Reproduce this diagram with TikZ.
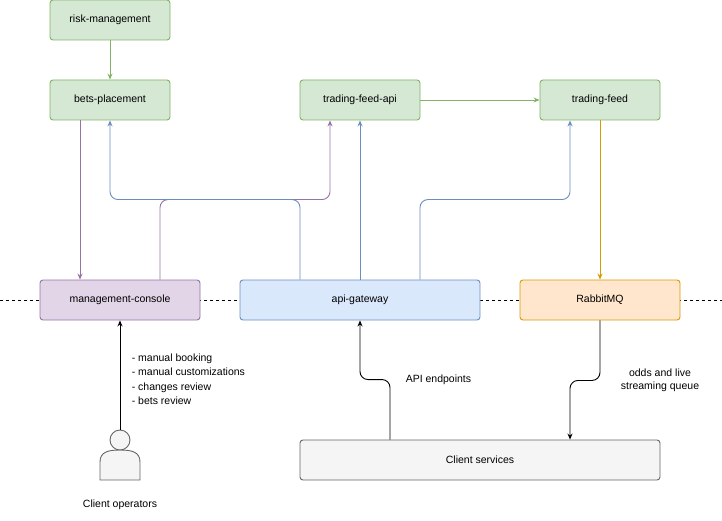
\documentclass[tikz,border=0pt]{standalone}
\usepackage{fontspec}
\setmainfont{Liberation Sans}
\usetikzlibrary{arrows.meta}
\definecolor{grfill}{HTML}{D5E8D4}\definecolor{grline}{HTML}{82B366}
\definecolor{pufill}{HTML}{E1D5E7}\definecolor{puline}{HTML}{9673A6}
\definecolor{blfill}{HTML}{DAE8FC}\definecolor{blline}{HTML}{6C8EBF}
\definecolor{orfill}{HTML}{FFE6CC}\definecolor{orline}{HTML}{D79B00}
\definecolor{gyfill}{HTML}{F5F5F5}\definecolor{gyline}{HTML}{666666}
\begin{document}
\begin{tikzpicture}
      [x=1pt,y=-1pt
      ,font=\fontsize{10.5}{13}\selectfont
      ,line width=0.9pt
      ,box/.style={draw,rounded corners=3pt,minimum height=40pt,inner sep=0pt}
      ,grn/.style={box,fill=grfill,draw=grline,minimum width=120pt}
      ,arr/.style={-{Stealth[length=6pt,width=5pt]},rounded corners=8pt}
      ]
        \useasboundingbox (0,0) rectangle (722,521);
        \draw[dashed] (0,300) -- (722,300);

        \node[grn] (risk) at (110,20) {risk-management};
        \node[grn] (bets) at (110,100) {bets-placement};
        \node[grn] (tfapi) at (360,100) {trading-feed-api};
        \node[grn] (tf) at (600,100) {trading-feed};
        \node[box,fill=pufill,draw=puline,minimum width=160pt] (console) at (120,300) {management-console};
        \node[box,fill=blfill,draw=blline,minimum width=240pt] (gw) at (360,300) {api-gateway};
        \node[box,fill=orfill,draw=orline,minimum width=160pt] (mq) at (600,300) {RabbitMQ};
        \node[box,fill=gyfill,draw=gyline,minimum width=360pt] (client) at (480,460) {Client services};

        % person icon
        \coordinate (op) at (120,430);
        \draw[fill=gyfill,draw=gyline] (100,480) -- (100,462) .. controls (100,452) and (108,450) .. (120,450)
            .. controls (132,450) and (140,452) .. (140,462) -- (140,480) -- cycle;
        \draw[fill=gyfill,draw=gyline] (120,440) circle (10);
        \node (oplbl) at (120,505) {Client operators};

        \draw[arr,grline] (risk) -- (bets);
        \draw[arr,grline] (tfapi) -- (tf);
        \draw[arr,puline] ([xshift=-30pt]bets.south) -- ([xshift=-40pt]console.north);
        \draw[arr,puline] ([xshift=40pt]console.north) -- ++(0,-80) -| ([xshift=-30pt]tfapi.south);
        \draw[arr,blline] ([xshift=-60pt]gw.north) -- ++(0,-80) -| (bets.south);
        \draw[arr,blline] (gw) -- (tfapi);
        \draw[arr,blline] ([xshift=60pt]gw.north) -- ++(0,-80) -| ([xshift=-30pt]tf.south);
        \draw[arr,orline] (tf) -- (mq);
        \draw[arr] (op) -- (console.south);
        \draw[arr] ([xshift=-90pt]client.north) -- ++(0,-60) -| (gw.south);
        \draw[arr] (mq.south) -- ++(0,60) -| ([xshift=90pt]client.north);

        \node[anchor=north west,align=left,font=\fontsize{10.5}{14.5}\selectfont] (ops) at (128,350)
            {- manual booking\\- manual customizations\\- changes review\\- bets review};
        \node[anchor=west] (apilbl) at (402,380) {API endpoints};
        \node[align=center] (qlbl) at (660,380) {odds and live\\streaming queue};
      \end{tikzpicture}
\end{document}
